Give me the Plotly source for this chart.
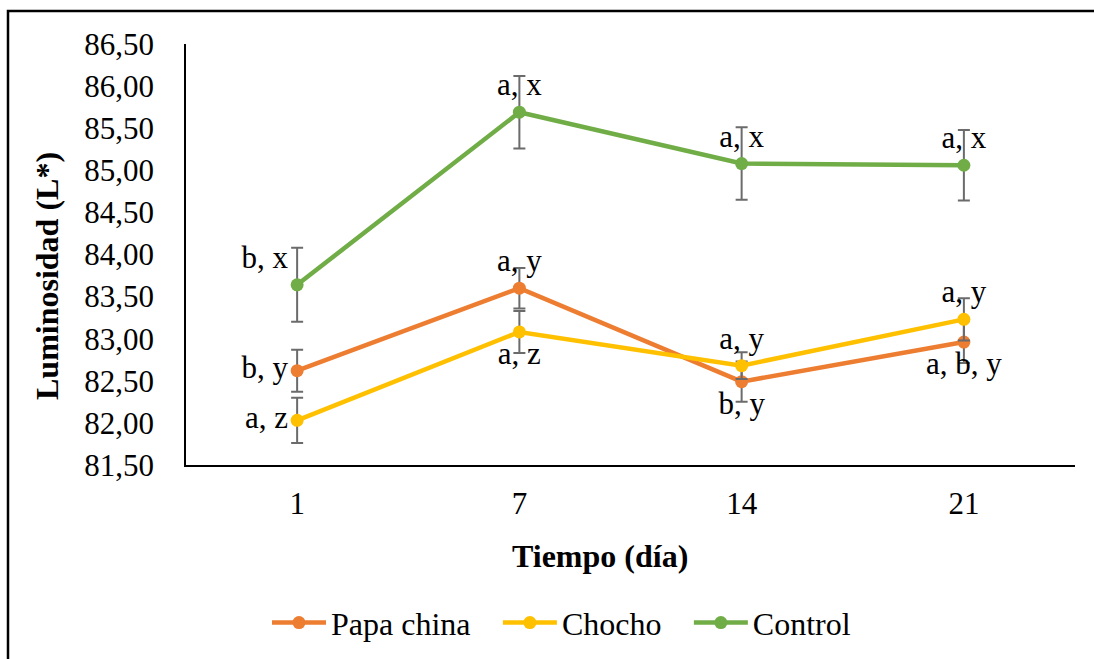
import plotly.graph_objects as go

dias = ["1", "7", "14", "21"]

papa = [82.62, 83.60, 82.49, 82.96]
papa_err = [0.25, 0.24, 0.24, 0.25]
papa_lbl = ["b, y", "a, y", "b, y", "a, b, y"]
papa_pos = ["middle left", "top center", "bottom center", "bottom center"]

chocho = [82.03, 83.08, 82.68, 83.23]
chocho_err = [0.27, 0.25, 0.16, 0.25]
chocho_lbl = ["a, z", "a, z", "a, y", "a, y"]
chocho_pos = ["middle left", "bottom center", "top center", "top center"]

control = [83.64, 85.69, 85.08, 85.06]
control_err = [0.44, 0.43, 0.43, 0.42]
control_lbl = ["b, x", "a, x", "a, x", "a, x"]
control_pos = ["top left", "top center", "top center", "top center"]

y_ticks = [81.5, 82.0, 82.5, 83.0, 83.5, 84.0, 84.5, 85.0, 85.5, 86.0, 86.5]

FONT = "Liberation Serif"
FS = 31
PAD = "\u00a0\u00a0\u2009"

fig = go.Figure()
series = [
    ("Papa china", papa, papa_err, papa_lbl, papa_pos, "#ED7D31"),
    ("Chocho", chocho, chocho_err, chocho_lbl, chocho_pos, "#FFC000"),
    ("Control", control, control_err, control_lbl, control_pos, "#70AD47"),
]
for name, vals, err, lbl, pos, col in series:
    fig.add_trace(go.Scatter(
        x=dias, y=vals, name=name + PAD, mode="lines+markers+text",
        line=dict(color=col, width=4.5),
        marker=dict(color=col, size=13),
        error_y=dict(type="data", array=err, visible=True, color="#6b6b6b",
                     thickness=2, width=6),
        text=lbl, textposition=pos,
        textfont=dict(family=FONT, size=FS, color="black"),
    ))

fig.update_layout(
    width=1094, height=659,
    margin=dict(l=186, r=19, t=44, b=194),
    paper_bgcolor="white", plot_bgcolor="white",
    separators=",.",
    font=dict(family=FONT, size=FS, color="black"),
    showlegend=True,
    legend=dict(orientation="h", xref="container", yref="container",
                x=267 / 1094, y=0.055, xanchor="left", yanchor="middle",
                font=dict(family=FONT, size=32, color="black"),
                itemwidth=54, bgcolor="rgba(0,0,0,0)"),
    xaxis=dict(type="category", range=[-0.5, 3.5], showgrid=False, zeroline=False,
               showline=True, linecolor="black", linewidth=1.5,
               ticks="", ticklabelstandoff=10,
               tickfont=dict(family=FONT, size=FS, color="black")),
    yaxis=dict(range=[81.5, 86.5], tickvals=y_ticks, tickformat=".2f",
               showgrid=False, zeroline=False,
               showline=True, linecolor="black", linewidth=1.5,
               ticks="", ticklabelstandoff=24,
               tickfont=dict(family=FONT, size=FS, color="black")),
    annotations=[
        dict(text="<b>Tiempo (día)</b>", xref="paper", yref="paper",
             x=(600 - 186) / 889, y=-(556 - 465) / 421,
             xanchor="center", yanchor="middle", showarrow=False,
             font=dict(family=FONT, size=32, color="black")),
        dict(text="<b>Luminosidad (L*)</b>", xref="paper", yref="paper",
             x=-(186 - 47) / 889, y=(465 - 276) / 421, textangle=-90,
             xanchor="center", yanchor="middle", showarrow=False,
             font=dict(family=FONT, size=32, color="black")),
    ],
    shapes=[
        dict(type="rect", xref="paper", yref="paper",
             x0=-(186 - 8) / 889, x1=1.2, y0=-0.6, y1=(465 - 11) / 421,
             line=dict(color="black", width=2.5), layer="below"),
    ],
)

fig.write_html("out.html")
